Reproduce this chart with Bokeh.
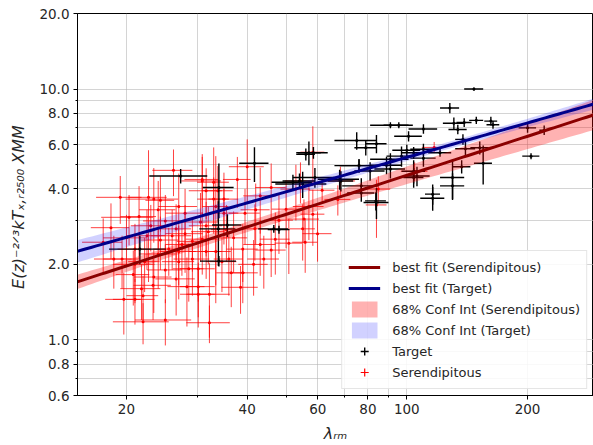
import numpy as np
from bokeh.plotting import figure
from bokeh.models import (FixedTicker, PrintfTickFormatter, ColumnDataSource,
                          Legend, LegendItem)
from bokeh.embed import file_html
from bokeh.resources import INLINE

# ---------------- data ----------------
# Target clusters (black)
lam_t = [147, 128, 131, 139, 149, 162, 164, 134, 138, 200, 220, 204, 152, 140, 137, 155,
         130, 130, 116, 116, 110, 101, 95.5, 91, 75, 79, 84, 57, 58.5, 100, 104, 110, 121,
         110, 91, 89, 76, 81, 91, 77, 104, 106, 104, 84, 68, 55, 59, 27.3, 34, 41.7, 52,
         21.6, 34, 33.9, 35.7, 46.6, 48, 56, 54, 77, 83.7, 76, 68.5, 97]
kt_t = [10.0, 8.4, 7.3, 7.35, 7.5, 7.45, 7.2, 6.9, 6.3, 7.0, 6.85, 5.4, 5.83, 5.78, 4.9, 5.06,
        4.44, 4.11, 3.81, 3.67, 6.93, 6.48, 7.17, 7.17, 6.23, 5.83, 6.05, 5.57, 5.57, 5.7, 5.57,
        5.75, 5.57, 5.3, 5.25, 4.97, 4.95, 4.71, 4.8, 4.11, 4.7, 4.5, 4.44, 3.53, 4.37, 4.18,
        4.44, 4.5, 4.05, 5.06, 4.25, 2.3, 2.06, 2.77, 2.87, 2.77, 2.75, 5.49, 4.3, 3.85, 3.58,
        4.95, 4.3, 5.4]
lam_t_err = [8, 7, 8, 6, 6, 6, 6, 7, 6, 10, 6, 10, 8, 8, 7, 8,
             9, 9, 5, 8, 9, 8, 8, 10, 9, 5, 5, 4, 5, 8, 7, 8, 8,
             8, 10, 8, 10, 7, 8, 8, 7, 8, 6, 6, 8, 8, 7, 4.5, 3.0, 3.5, 6,
             3.5, 3.5, 3.5, 3.0, 4.0, 3.0, 3.0, 5.0, 6, 5, 8, 5, 8]
kt_t_err = [0.15, 0.4, 0.4, 0.3, 0.25, 0.3, 0.25, 0.3, 0.3, 0.3, 0.3, 0.15, 0.35, 0.4, 0.3, 0.9,
            0.8, 0.5, 0.35, 0.4, 0.3, 0.3, 0.2, 0.2, 0.5, 0.4, 0.5, 0.6, 0.3, 0.3, 0.3,
            0.3, 0.2, 0.4, 0.3, 0.4, 0.3, 0.4, 0.4, 0.3, 0.5, 0.4, 0.4, 0.5, 0.4, 0.5,
            0.4, 0.3, 1.0, 0.8, 0.3, 0.3, 0.1, 0.8, 0.3, 0.1, 0.1, 0.3, 0.3, 0.3, 0.3,
            0.3, 0.4, 0.5]

# Serendipitous clusters (red)
lam_s = [26.2, 22.7, 23.4, 24.3, 20.3, 21.5, 25.0, 23.0, 26.6, 24.3, 28.0, 29.2, 25.5, 27.0,
         30.6, 30.9, 33.4, 40.0, 37.8, 30.9, 31.6, 35.0, 43.1, 45.9, 39.5, 50.0, 52.9, 57.0,
         35.5, 41.8, 47.0, 55.0, 55.8, 50.8, 43.1, 39.0, 33.4, 30.9, 31.6, 21.0, 22.0, 25.0,
         22.0, 23.3, 26.6, 28.3, 20.8, 23.4, 25.0, 21.0, 22.2, 27.0, 29.2, 30.2, 28.6, 19.5,
         21.8, 32.2, 32.2, 38.5, 39.0, 41.5, 34.6, 31.6, 45.9, 30.2, 30.2, 58.3, 68.3, 61.5,
         67.3, 58.3, 59.9, 84.9, 84.0, 104.6, 117.0, 55.4, 54.3, 18.6, 19.7, 19.3, 33.0, 33.8,
         33.0, 17.5, 18.3, 20.0, 22.5, 24.0, 26.0, 28.0, 35.0, 37.0, 42.0, 48.0, 36.0, 27.5,
         32.0, 44.0, 36.5, 24.0, 27.0, 21.0]
kt_s = [4.74, 3.7, 3.64, 3.6, 3.08, 3.1, 2.98, 2.85, 2.77, 2.5, 2.65, 2.47, 2.3, 2.25,
        2.95, 4.3, 3.4, 4.9, 4.36, 4.36, 3.93, 3.64, 3.75, 4.05, 3.2, 3.32, 3.99, 3.4,
        2.75, 2.77, 2.52, 2.77, 2.45, 2.43, 2.4, 2.3, 2.25, 2.52, 2.85, 1.45, 1.5, 1.2,
        1.18, 1.65, 1.75, 1.63, 1.82, 1.78, 1.9, 2.0, 2.05, 2.05, 2.1, 1.52, 1.92, 2.1,
        1.6, 1.52, 1.17, 1.62, 1.85, 2.0, 2.05, 2.25, 2.28, 1.92, 1.63, 5.6, 4.3, 3.95,
        3.63, 3.17, 2.65, 3.99, 3.45, 4.7, 5.85, 3.03, 4.3, 2.1, 1.45, 3.7, 4.25, 3.93,
        3.64, 2.45, 2.8, 2.55, 2.6, 2.2, 2.6, 3.2, 3.2, 2.55, 3.3, 3.0, 2.1, 2.4,
        2.7, 2.1, 1.85, 3.3, 3.4, 2.3]
lam_s_err = [3.0, 2.5, 3.5, 2.0, 3.0, 2.2, 3.0, 2.5, 2.4, 2.6, 3.0, 2.5, 2.2, 2.8,
             3.0, 3.5, 2.5, 4.0, 3.0, 3.0, 3.0, 3.0, 4.0, 4.0, 3.5, 4.0, 4.5, 5.0,
             3.0, 3.5, 4.0, 4.0, 4.0, 4.0, 4.0, 3.5, 3.0, 2.8, 3.0, 2.5, 2.0, 4.0,
             3.5, 2.5, 3.0, 3.0, 2.0, 2.5, 2.5, 2.5, 2.0, 2.5, 3.0, 3.0, 2.5, 2.0,
             2.5, 4.0, 4.0, 4.0, 3.5, 3.5, 3.0, 3.0, 4.0, 3.0, 3.0, 4.0, 6.0, 4.5,
             5.0, 4.0, 5.0, 6.0, 5.0, 8.0, 8.0, 5.0, 4.5, 2.0, 2.0, 2.5, 3.0, 3.0,
             3.0, 2.0, 2.0, 2.5, 2.5, 2.5, 3.0, 3.0, 3.0, 3.0, 3.5, 4.0, 3.0, 2.5,
             3.0, 4.0, 3.0, 2.5, 3.0, 2.0]
kt_s_err = [1.0, 2.0, 1.2, 0.9, 0.7, 1.0, 0.8, 0.6, 0.7, 0.6, 0.8, 0.6, 0.5, 0.6,
            0.9, 1.2, 2.0, 1.4, 1.0, 1.0, 0.9, 1.0, 1.1, 1.0, 0.8, 1.0, 1.0, 0.9,
            0.7, 0.7, 0.7, 0.7, 0.6, 0.6, 0.6, 0.6, 0.6, 0.7, 0.7, 0.3, 0.3, 0.25,
            0.22, 0.45, 0.5, 0.5, 0.45, 0.5, 0.5, 0.6, 0.5, 0.6, 0.6, 0.4, 0.5, 0.5,
            0.4, 0.5, 0.2, 0.35, 0.45, 0.5, 0.5, 0.5, 0.5, 0.5, 0.4, 1.5, 0.6, 0.4,
            0.5, 0.8, 0.6, 0.5, 0.9, 0.4, 0.3, 0.6, 0.8, 0.5, 0.4, 0.8, 1.6, 1.0,
            0.8, 0.6, 0.7, 0.6, 0.7, 0.6, 0.7, 0.8, 0.8, 0.7, 0.9, 0.8, 0.6, 0.6,
            0.7, 0.5, 0.5, 1.0, 1.2, 0.6]

# best-fit power laws: log T = a + b (log lam - log pivot), with 68% band parameters
fit_ser = dict(pivot=40.0, norm=2.82, slope=0.517, band_pivot=33.0, sig_a=0.02, sig_b=0.06)
fit_tar = dict(pivot=100.0, norm=5.34, slope=0.456, band_pivot=126.0, sig_a=0.014, sig_b=0.046)

x_ticks = [20, 40, 60, 80, 100, 200]
x_minor = [30, 50, 70, 90]
y_ticks = [0.6, 0.8, 1.0, 2.0, 4.0, 6.0, 8.0, 10.0, 20.0]
y_minor = [0.7, 0.9, 3.0, 5.0, 7.0, 9.0]

# ---------------- figure ----------------
FONT = "DejaVu Sans"
p = figure(width=593, height=445, x_axis_type="log", y_axis_type="log",
           x_range=(15.1, 292), y_range=(0.6, 20),
           output_backend="svg", toolbar_location=None,
           min_border_left=77, min_border_right=0, min_border_top=13, min_border_bottom=47)
p.background_fill_color = "white"
p.border_fill_color = "white"
p.outline_line_color = "black"
p.outline_line_width = 1

p.xaxis.ticker = FixedTicker(ticks=x_ticks, minor_ticks=x_minor)
p.yaxis.ticker = FixedTicker(ticks=y_ticks, minor_ticks=y_minor)
p.xaxis.formatter = PrintfTickFormatter(format="%d")
p.yaxis.formatter = PrintfTickFormatter(format="%.1f")
p.xgrid.ticker = FixedTicker(ticks=sorted(x_ticks + x_minor))
p.ygrid.ticker = FixedTicker(ticks=sorted(y_ticks + y_minor))
for g in (p.xgrid, p.ygrid):
    g.grid_line_color = "#b0b0b0"
    g.grid_line_alpha = 0.55
    g.grid_line_width = 1

for ax in (p.xaxis, p.yaxis):
    ax.axis_line_color = "black"
    ax.major_tick_out = 4
    ax.major_tick_in = 0
    ax.minor_tick_out = 2
    ax.minor_tick_in = 0
    ax.major_tick_line_color = "black"
    ax.minor_tick_line_color = "black"
    ax.major_label_text_font = FONT
    ax.major_label_text_font_size = "13.5px"
    ax.major_label_text_color = "#262626"
    ax.axis_label_text_font = FONT
    ax.axis_label_text_font_size = "16px"
    ax.axis_label_text_font_style = "italic"
    ax.axis_label_text_color = "#262626"
    ax.major_label_standoff = 4

p.xaxis.axis_label = "λᵣₘ"
p.yaxis.axis_label = "E(z)⁻²ᐟ³kTₓ,ᵣ₂₅₀₀  XMM"
p.xaxis.axis_label_standoff = 7
p.yaxis.axis_label_standoff = 8

# error bars
def err_source(lam, kt, lerr, terr):
    lam = np.array(lam, float); kt = np.array(kt, float)
    lerr = np.array(lerr, float); terr = np.array(terr, float)
    return ColumnDataSource(dict(x=lam, y=kt, x0=lam - lerr, x1=lam + lerr,
                                 y0=np.maximum(kt - terr, 0.05), y1=kt + terr))

src_s = err_source(lam_s, kt_s, lam_s_err, kt_s_err)
src_t = err_source(lam_t, kt_t, lam_t_err, kt_t_err)

p.segment(x0="x0", y0="y", x1="x1", y1="y", source=src_s, line_color="red", line_width=1, line_alpha=0.75)
p.segment(x0="x", y0="y0", x1="x", y1="y1", source=src_s, line_color="red", line_width=1, line_alpha=0.75)
p.scatter(x="x", y="y", source=src_s, size=3, color="red", line_width=0)

p.segment(x0="x0", y0="y", x1="x1", y1="y", source=src_t, line_color="black", line_width=1.4)
p.segment(x0="x", y0="y0", x1="x", y1="y1", source=src_t, line_color="black", line_width=1.4)
p.scatter(x="x", y="y", source=src_t, size=3, color="black", line_width=0)

# fits
lam_grid = np.logspace(np.log10(14), np.log10(320), 120)

def fit_curves(f):
    d = np.log10(lam_grid) - np.log10(f["pivot"])
    logt = np.log10(f["norm"]) + f["slope"] * d
    db = np.log10(lam_grid) - np.log10(f["band_pivot"])
    sig = np.sqrt(f["sig_a"] ** 2 + (f["sig_b"] * db) ** 2)
    return 10 ** logt, 10 ** (logt - sig), 10 ** (logt + sig)

ys, ys_lo, ys_hi = fit_curves(fit_ser)
yt, yt_lo, yt_hi = fit_curves(fit_tar)

band_s = p.varea(x=lam_grid, y1=ys_lo, y2=ys_hi, fill_color="red", fill_alpha=0.3)
band_t = p.varea(x=lam_grid, y1=yt_lo, y2=yt_hi, fill_color="blue", fill_alpha=0.18)
line_s = p.line(lam_grid, ys, line_color="darkred", line_width=3)
line_t = p.line(lam_grid, yt, line_color="darkblue", line_width=3)

# legend markers (cross glyphs), placed outside the visible range so only the legend shows them
leg_t = p.scatter(x=[1.0], y=[100.0], marker="cross", size=18, line_color="black", line_width=1.4)
leg_s = p.scatter(x=[1.0], y=[100.0], marker="cross", size=18, line_color="red", line_width=1.2)

legend = Legend(items=[
    LegendItem(label="best fit (Serendipitous)", renderers=[line_s]),
    LegendItem(label="best fit (Target)", renderers=[line_t]),
    LegendItem(label="68% Conf Int (Serendipitous)", renderers=[band_s]),
    LegendItem(label="68% Conf Int (Target)", renderers=[band_t]),
    LegendItem(label="Target", renderers=[leg_t]),
    LegendItem(label="Serendipitous", renderers=[leg_s]),
], location="bottom_right")
legend.label_text_font = FONT
legend.label_text_font_size = "13px"
legend.label_text_color = "#262626"
legend.glyph_width = 32
legend.glyph_height = 20
legend.label_height = 20
legend.label_standoff = 12
legend.spacing = 1
legend.padding = 6
legend.margin = 6
legend.border_line_color = "#cccccc"
legend.border_line_width = 1
legend.background_fill_alpha = 0.85
p.add_layout(legend)

open("out.html", "w").write(file_html(p, INLINE))
